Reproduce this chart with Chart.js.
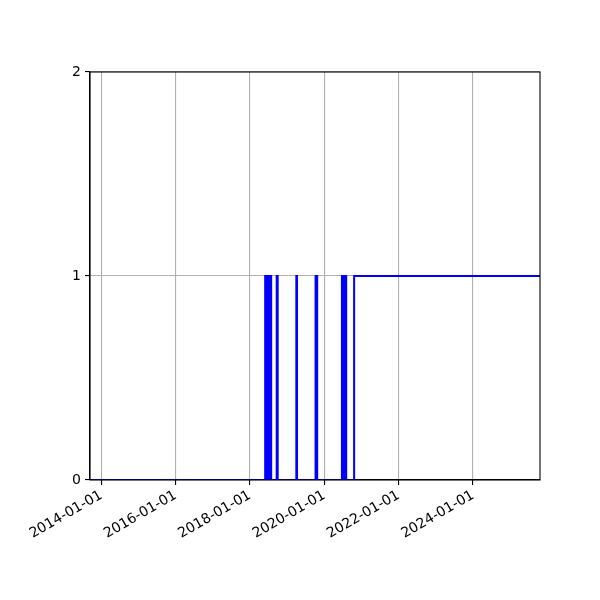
<!DOCTYPE html>
<html>
<head>
<meta charset="utf-8">
<script src="https://cdn.jsdelivr.net/npm/chart.js@4"></script>
<style>
  html, body { margin: 0; padding: 0; background: #fff; }
  #wrap { width: 600px; height: 600px; }
</style>
</head>
<body>
<div id="wrap"><canvas id="chart" width="600" height="600"></canvas></div>
<script>
// dates where the value changes, and the value from that date on
const changeDates = [
  "2013-09-12",
  "2018-05-30", "2018-06-04", "2018-06-08", "2018-06-13", "2018-06-17", "2018-06-22",
  "2018-06-26", "2018-07-01", "2018-07-05", "2018-07-10", "2018-07-14", "2018-07-19",
  "2018-07-23", "2018-07-28",
  "2018-09-20", "2018-09-30",
  "2019-04-01", "2019-04-08",
  "2019-10-07", "2019-10-14", "2019-10-17", "2019-10-23",
  "2020-06-22", "2020-06-28", "2020-07-03", "2020-07-09", "2020-07-14", "2020-07-20",
  "2020-07-25", "2020-08-03",
  "2020-10-20",
  "2025-10-20"
];
const changeValues = [
  0,
  1, 0, 1, 0, 1, 0,
  1, 0, 1, 0, 1, 0,
  1, 0,
  1, 0,
  1, 0,
  1, 0, 1, 0,
  1, 0, 1, 0, 1, 0,
  1, 0,
  1,
  1
];
const xTickLabels = ["2014-01-01", "2016-01-01", "2018-01-01", "2020-01-01", "2022-01-01", "2024-01-01"];
const yTickValues = [0, 1, 2];

const points = changeDates.map((d, i) => ({ x: Date.parse(d), y: changeValues[i] }));
const xMin = Date.parse(changeDates[0]);
const xMax = Date.parse(changeDates[changeDates.length - 1]);

// top + right spines like matplotlib
const boxPlugin = {
  id: "box",
  afterDatasetsDraw(chart) {
    const { ctx, chartArea: a } = chart;
    ctx.save();
    ctx.strokeStyle = "#000";
    ctx.lineWidth = 1.1;
    ctx.strokeRect(a.left, a.top, a.right - a.left, a.bottom - a.top);
    ctx.restore();
  }
};

new Chart(document.getElementById("chart").getContext("2d"), {
  type: "line",
  data: {
    datasets: [{
      data: points,
      stepped: "before",
      borderColor: "#0000ff",
      borderWidth: 2,
      pointRadius: 0,
      fill: false
    }]
  },
  options: {
    responsive: false,
    animation: false,
    layout: { padding: { top: 72, right: 60, left: 0, bottom: 0 } },
    plugins: { legend: { display: false }, tooltip: { enabled: false } },
    scales: {
      x: {
        type: "linear",
        min: xMin,
        max: xMax,
        afterBuildTicks: s => { s.ticks = xTickLabels.map(t => ({ value: Date.parse(t) })); },
        afterFit: s => { s.height = 120; },
        ticks: {
          autoSkip: false,
          minRotation: 30,
          maxRotation: 30,
          color: "#000",
          padding: 2,
          font: { family: "DejaVu Sans", size: 14 },
          callback: v => new Date(v).toISOString().slice(0, 10)
        },
        grid: { color: "#b0b0b0", lineWidth: 1.1, tickColor: "#000", tickLength: 5 },
        border: { color: "#000", width: 1.1 }
      },
      y: {
        min: 0,
        max: 2,
        afterBuildTicks: s => { s.ticks = yTickValues.map(v => ({ value: v })); },
        afterFit: s => { s.width = 90; },
        ticks: {
          color: "#000",
          padding: 4,
          font: { family: "DejaVu Sans", size: 14 }
        },
        grid: { color: "#b0b0b0", lineWidth: 1.1, tickColor: "#000", tickLength: 5 },
        border: { color: "#000", width: 1.1 }
      }
    }
  },
  plugins: [boxPlugin]
});
</script>
</body>
</html>
